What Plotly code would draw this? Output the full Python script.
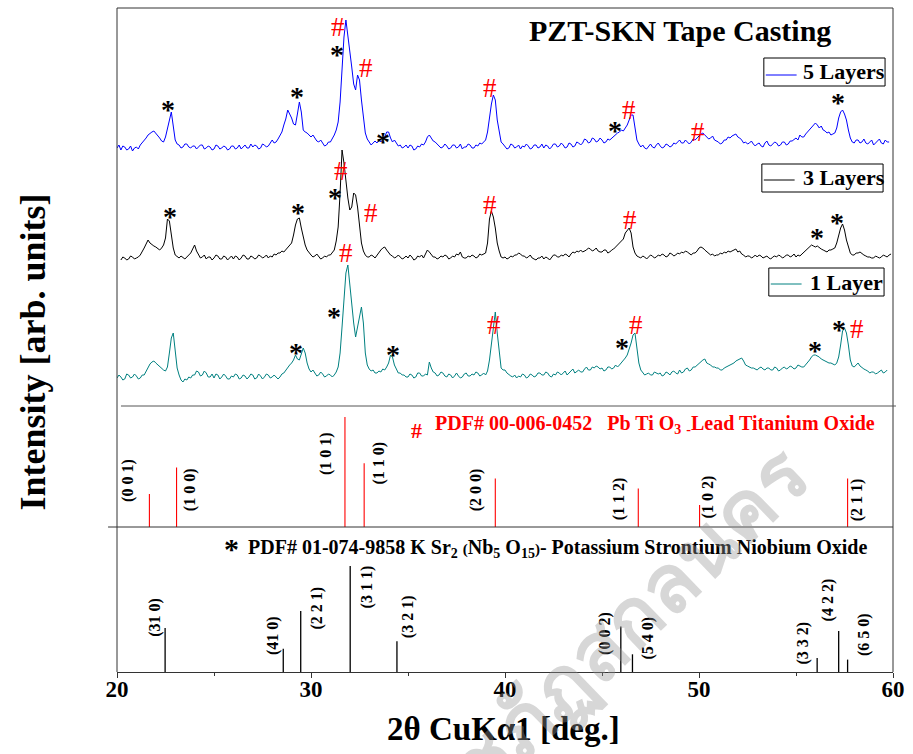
import plotly.graph_objects as go

SERIF = "Liberation Serif, Times New Roman, serif"

# ---------------------------------------------------------------
# XRD scans: 2-theta sampling (deg, 0.1 step) and intensities (a.u.)
# one row per degree, 20 ... 59
# ---------------------------------------------------------------
two_theta = [round(20.0 + 0.1 * i, 1) for i in range(400)]

layers5 = [
    4, 7, 2, 6, 5, 2, 3, 6, 1, 4,
    5, 3, 7, 9, 12, 14, 17, 19, 20, 21,
    19, 17, 14, 11, 10, 15, 24, 34, 40, 26,
    12, 8, 7, 4, 5, 8, 8, 5, 4, 6,
    6, 3, 5, 7, 7, 3, 4, 6, 5, 2,
    3, 7, 6, 3, 4, 6, 5, 2, 3, 6,
    6, 3, 4, 7, 3, 5, 7, 4, 4, 8,
    5, 7, 6, 3, 4, 8, 7, 5, 6, 9,
    12, 9, 10, 13, 17, 20, 27, 33, 42, 38,
    34, 28, 27, 38, 50, 40, 22, 20, 19, 17,
    15, 17, 14, 11, 10, 12, 9, 6, 7, 10,
    10, 13, 17, 22, 30, 50, 85, 115, 132, 118,
    99, 85, 68, 62, 77, 72, 52, 32, 19, 13,
    10, 7, 9, 11, 9, 12, 10, 13, 15, 20,
    20, 14, 10, 12, 9, 6, 7, 4, 5, 7,
    4, 7, 6, 2, 3, 6, 5, 8, 7, 10,
    15, 17, 14, 11, 10, 8, 7, 4, 5, 8,
    6, 3, 4, 7, 7, 4, 5, 8, 3, 5,
    5, 8, 7, 4, 4, 7, 6, 9, 8, 10,
    12, 20, 35, 48, 57, 52, 32, 20, 10, 8,
    6, 3, 4, 8, 7, 4, 5, 7, 3, 6,
    5, 8, 6, 3, 4, 7, 7, 4, 5, 8,
    4, 7, 6, 3, 5, 8, 8, 5, 6, 9,
    7, 4, 5, 9, 8, 5, 6, 10, 9, 7,
    9, 13, 12, 9, 10, 14, 13, 10, 11, 14,
    12, 9, 10, 13, 12, 14, 15, 18, 19, 20,
    22, 21, 24, 27, 32, 37, 37, 25, 12, 8,
    5, 7, 4, 3, 6, 8, 5, 4, 7, 9,
    6, 4, 5, 8, 7, 5, 6, 9, 8, 10,
    12, 9, 9, 12, 10, 8, 10, 13, 12, 14,
    17, 18, 19, 17, 15, 13, 14, 16, 12, 11,
    10, 8, 9, 12, 12, 15, 14, 16, 17, 18,
    15, 14, 12, 9, 10, 8, 9, 11, 8, 6,
    8, 9, 6, 5, 9, 11, 7, 6, 8, 10,
    9, 6, 7, 10, 10, 7, 8, 11, 11, 13,
    14, 12, 17, 15, 15, 18, 20, 23, 25, 27,
    29, 27, 24, 26, 22, 21, 19, 20, 17, 18,
    19, 24, 34, 40, 42, 38, 32, 22, 14, 10,
    9, 12, 12, 9, 10, 13, 9, 8, 10, 12,
    7, 9, 10, 13, 9, 8, 12, 10, 10, None,
]

layers3 = [
    None, None, 3, 6, 5, 3, 4, 7, 6, 4,
    5, 6, 8, 11, 15, 19, 23, 20, 18, 17,
    16, 14, 13, 15, 18, 25, 44, 42, 30, 15,
    8, 6, 5, 7, 5, 4, 6, 8, 10, 14,
    18, 12, 8, 5, 6, 8, 4, 6, 6, 3,
    5, 8, 7, 4, 4, 7, 6, 3, 5, 7,
    4, 7, 6, 3, 5, 8, 7, 4, 4, 7,
    6, 4, 5, 8, 7, 5, 6, 8, 5, 7,
    6, 9, 8, 10, 10, 12, 11, 13, 15, 17,
    20, 28, 38, 44, 45, 35, 26, 18, 13, 10,
    8, 6, 7, 9, 6, 4, 5, 7, 6, 8,
    8, 10, 13, 22, 36, 70, 113, 100, 80, 65,
    53, 56, 70, 68, 56, 40, 20, 12, 8, 6,
    6, 8, 7, 5, 8, 10, 13, 15, 16, 13,
    10, 8, 7, 5, 6, 8, 6, 4, 5, 7,
    5, 8, 6, 3, 4, 7, 6, 8, 5, 9,
    13, 11, 8, 6, 6, 4, 5, 7, 6, 8,
    7, 4, 5, 7, 6, 9, 8, 11, 6, 5,
    5, 7, 6, 8, 7, 5, 6, 9, 8, 9,
    10, 20, 44, 52, 46, 35, 20, 12, 6, 5,
    6, 4, 5, 7, 6, 8, 8, 10, 9, 7,
    7, 5, 6, 8, 5, 4, 3, 5, 5, 7,
    4, 6, 5, 3, 6, 8, 8, 6, 6, 8,
    7, 9, 8, 6, 9, 11, 10, 12, 11, 13,
    11, 12, 13, 15, 14, 12, 13, 15, 12, 11,
    11, 13, 13, 10, 11, 13, 14, 16, 18, 19,
    21, 24, 30, 33, 35, 30, 16, 10, 7, 6,
    5, 7, 6, 4, 6, 8, 7, 5, 6, 8,
    7, 9, 8, 6, 7, 10, 9, 7, 8, 10,
    9, 11, 10, 12, 11, 9, 8, 10, 10, 12,
    15, 16, 15, 13, 11, 9, 8, 9, 7, 8,
    8, 10, 9, 11, 10, 12, 11, 12, 13, 14,
    11, 12, 9, 8, 6, 7, 7, 5, 6, 8,
    6, 8, 7, 5, 6, 7, 5, 4, 6, 7,
    6, 8, 7, 5, 6, 8, 8, 6, 7, 9,
    6, 8, 7, 9, 10, 12, 15, 17, 18, 17,
    16, 17, 15, 14, 13, 12, 11, 13, 13, 14,
    15, 20, 28, 35, 39, 33, 23, 15, 10, 8,
    8, 10, 10, 11, 9, 8, 7, 6, 6, 5,
    5, 7, 6, 5, 6, 8, 7, 6, 8, 9,
]

layer1 = [
    5, 8, 6, 3, 4, 9, 8, 5, 6, 9,
    7, 4, 5, 8, 8, 12, 16, 19, 21, 22,
    20, 18, 16, 14, 13, 12, 16, 30, 45, 50,
    30, 15, 8, 3, 1, 4, 3, 6, 5, 8,
    8, 12, 11, 7, 8, 12, 10, 6, 6, 9,
    5, 9, 8, 4, 6, 9, 7, 4, 4, 7,
    6, 9, 8, 4, 5, 8, 7, 4, 6, 9,
    8, 4, 5, 9, 7, 4, 6, 9, 8, 5,
    6, 8, 6, 4, 6, 9, 10, 13, 15, 18,
    20, 23, 28, 24, 23, 29, 35, 30, 20, 14,
    11, 13, 10, 7, 8, 11, 9, 6, 7, 9,
    8, 6, 8, 11, 16, 30, 56, 88, 110, 118,
    96, 75, 60, 46, 55, 65, 76, 60, 30, 18,
    14, 12, 13, 10, 10, 12, 11, 14, 13, 16,
    20, 28, 26, 18, 13, 10, 10, 8, 8, 6,
    6, 9, 8, 5, 6, 10, 10, 7, 7, 9,
    8, 21, 15, 11, 10, 7, 8, 11, 10, 7,
    6, 9, 8, 5, 7, 10, 7, 5, 6, 9,
    10, 7, 7, 9, 8, 11, 10, 7, 8, 10,
    8, 12, 23, 40, 60, 71, 50, 30, 15, 13,
    13, 10, 8, 7, 6, 8, 5, 7, 6, 9,
    8, 5, 6, 9, 8, 6, 7, 10, 10, 8,
    8, 11, 10, 7, 6, 9, 8, 11, 10, 8,
    10, 12, 8, 10, 11, 14, 10, 12, 13, 11,
    11, 14, 16, 13, 13, 16, 15, 17, 16, 14,
    15, 12, 13, 16, 16, 14, 15, 18, 16, 18,
    20, 22, 25, 28, 33, 40, 48, 50, 35, 20,
    13, 10, 8, 9, 10, 8, 8, 11, 10, 9,
    10, 7, 8, 11, 10, 8, 11, 12, 10, 9,
    13, 10, 11, 14, 15, 12, 13, 16, 16, 18,
    20, 22, 23, 24, 20, 19, 18, 16, 16, 15,
    15, 13, 13, 15, 16, 17, 18, 19, 20, 22,
    23, 24, 25, 22, 18, 17, 16, 15, 15, 14,
    13, 15, 16, 14, 13, 15, 15, 13, 13, 16,
    15, 12, 13, 15, 16, 14, 15, 17, 16, 14,
    15, 18, 17, 16, 16, 18, 20, 23, 26, 28,
    28, 27, 26, 24, 23, 22, 21, 20, 20, 19,
    18, 20, 26, 38, 52, 55, 50, 38, 23, 17,
    16, 18, 20, 17, 15, 14, 13, 12, 10, 11,
    11, 9, 10, 12, 13, 10, 11, 13, None, None,
]

# stacking offsets of the three scans in the upper panel
offset5, offset3, offset1 = 254, 143, 23

series_names = ["5 Layers", "3 Layers", "1 Layer"]
series_colors = ["#0000ff", "black", "#008080"]

# ---------------------------------------------------------------
# Reference patterns
# ---------------------------------------------------------------
# PDF# 00-006-0452 PbTiO3
pto_pos = [21.67, 23.07, 31.75, 32.74, 39.50, 46.87, 50.03, 57.66]
pto_int = [30, 54, 100, 58, 44, 35, 20, 44]
pto_hkl = ["(0 0 1)", "(1 0 0)", "(1 0 1)", "(1 1 0)", "(2 0 0)", "(1 1 2)", "(1 0 2)", "(2 1 1)"]
pto_lbl_x = [20.56, 23.74, 30.81, 33.52, 38.49, 45.92, 50.47, 58.16]
pto_lbl_y = [42.7, 34.0, 67.0, 58.0, 34.0, 26.0, 27.0, 24.5]

# PDF# 01-074-9858 KSr2(Nb5O15)
ksn_pos = [22.48, 28.57, 29.47, 32.02, 34.43, 45.97, 46.57, 56.09, 57.20, 57.66]
ksn_int = [41.5, 22, 57.5, 100, 29, 43, 16.7, 13.2, 38.7, 11.7]
ksn_hkl = ["(31 0)", "(41 0)", "(2 2 1)", "(3 1 1)", "(3 2 1)", "(0 0 2)", "(5 4 0)", "(3 3 2)", "(4 2 2)", "(6 5 0)"]
ksn_lbl_x = [21.95, 28.04, 30.29, 32.91, 35.01, 45.15, 47.35, 55.34, 56.67, 58.51]
ksn_lbl_y = [51.9, 34.9, 60.4, 80.2, 51.9, 36.8, 32.1, 27.4, 67.9, 34.9]

# phase markers on the scans: (2theta, height in upper panel, symbol)
phase_marks = [
    (22.61, 301, "*"), (29.27, 314, "*"), (31.37, 379, "#"), (31.32, 356, "*"),
    (32.86, 338, "#"), (33.73, 269, "*"), (39.21, 318, "#"), (45.66, 280, "*"),
    (46.38, 296, "#"), (49.96, 274, "#"), (57.18, 308, "*"),
    (22.71, 194, "*"), (29.32, 198, "*"), (31.22, 213, "*"), (31.57, 235, "#"),
    (33.11, 193, "#"), (39.21, 201, "#"), (46.43, 186, "#"), (56.06, 173, "*"),
    (57.13, 188, "*"),
    (29.22, 58, "*"), (31.17, 94, "*"), (31.78, 153, "#"), (34.24, 56, "*"),
    (39.41, 81, "#"), (46.02, 63, "*"), (46.73, 81, "#"), (56.00, 60, "*"),
    (57.23, 81, "*"), (58.16, 77, "#"),
]

# plot-area geometry in pixels (for paper-coordinate placement)
L, T, W, H = 117, 8, 781, 664


def pxx(px):
    return (px - L) / W


def pxy(py):
    return (T + H - py) / H


def shifted(values, off):
    return [None if v is None else v + off for v in values]


def sticks(pos, inten):
    xs, ys = [], []
    for p, h in zip(pos, inten):
        xs += [p, p, None]
        ys += [0, h, None]
    return xs, ys


fig = go.Figure()

kx, ky = sticks(ksn_pos, ksn_int)
fig.add_trace(go.Scatter(x=kx, y=ky, xaxis="x", yaxis="y", mode="lines",
                         line=dict(color="black", width=1.3), showlegend=False,
                         hoverinfo="skip"))
px_, py_ = sticks(pto_pos, pto_int)
fig.add_trace(go.Scatter(x=px_, y=py_, xaxis="x", yaxis="y2", mode="lines",
                         line=dict(color="#ff0000", width=1.1), showlegend=False,
                         hoverinfo="skip"))

for vals, off, name, col in zip([layers5, layers3, layer1], [offset5, offset3, offset1],
                                series_names, series_colors):
    fig.add_trace(go.Scatter(x=two_theta, y=shifted(vals, off), xaxis="x", yaxis="y3",
                             mode="lines", name=name, showlegend=False,
                             line=dict(color=col, width=1)))

ann = []
for x, y, s in phase_marks:
    if s == "*":
        ann.append(dict(x=x, y=y, xref="x", yref="y3", text="*", showarrow=False,
                        xanchor="center", yanchor="middle", yshift=-4,
                        font=dict(family=SERIF, size=28, color="black", weight="bold")))
    else:
        ann.append(dict(x=x, y=y, xref="x", yref="y3", text="#", showarrow=False,
                        xanchor="center", yanchor="middle",
                        font=dict(family=SERIF, size=27, color="#ff0000")))

for t, x, y in zip(pto_hkl, pto_lbl_x, pto_lbl_y):
    ann.append(dict(x=x, y=y, xref="x", yref="y2", text=t, textangle=-90, showarrow=False,
                    xanchor="center", yanchor="middle",
                    font=dict(family=SERIF, size=16, color="black", weight="bold")))
for t, x, y in zip(ksn_hkl, ksn_lbl_x, ksn_lbl_y):
    ann.append(dict(x=x, y=y, xref="x", yref="y", text=t, textangle=-90, showarrow=False,
                    xanchor="center", yanchor="middle",
                    font=dict(family=SERIF, size=16, color="black", weight="bold")))

# legend boxes drawn by hand: (left, top, right, bottom, line y, text left) in pixels
legend_boxes = [
    (768, 58, 890, 86, 75, 805),
    (766, 164, 888, 192, 180, 805),
    (773, 268, 889, 296, 284, 812),
]
shapes = []
for (x0, y0, x1, y1, ly, tx), name, col in zip(legend_boxes, series_names, series_colors):
    shapes.append(dict(type="rect", xref="paper", yref="paper", x0=pxx(x0), x1=pxx(x1),
                       y0=pxy(y1), y1=pxy(y0), line=dict(color="black", width=1),
                       fillcolor="white"))
    shapes.append(dict(type="line", xref="paper", yref="paper", x0=pxx(x0 + 2),
                       x1=pxx(x0 + 33), y0=pxy(ly), y1=pxy(ly), line=dict(color=col, width=1)))
    ann.append(dict(x=pxx(tx), y=pxy((y0 + y1) / 2), xref="paper", yref="paper",
                    xanchor="left", yanchor="middle", text=name, showarrow=False,
                    font=dict(family=SERIF, size=22, color="black", weight="bold")))

# panel headings
ann.append(dict(x=pxx(684), y=pxy(31), xref="paper", yref="paper", text="PZT-SKN Tape Casting",
                xanchor="center", yanchor="middle", showarrow=False,
                font=dict(family=SERIF, size=30, color="black", weight="bold")))
ann.append(dict(x=pxx(418), y=pxy(430), xref="paper", yref="paper", text="#", showarrow=False,
                xanchor="center", yanchor="middle",
                font=dict(family=SERIF, size=22, color="#ff0000", weight="bold")))
ann.append(dict(x=pxx(435), y=pxy(424), xref="paper", yref="paper", xanchor="left",
                yanchor="middle",
                text="PDF# 00-006-0452   Pb Ti O<sub>3</sub> <sub>-</sub>Lead Titanium Oxide",
                showarrow=False, font=dict(family=SERIF, size=20, color="#ff0000", weight="bold")))
ann.append(dict(x=pxx(232), y=pxy(543), xref="paper", yref="paper", text="*", showarrow=False,
                xanchor="center", yanchor="middle", yshift=-5,
                font=dict(family=SERIF, size=30, color="black", weight="bold")))
ann.append(dict(x=pxx(247), y=pxy(548), xref="paper", yref="paper", xanchor="left",
                yanchor="middle",
                text="PDF# 01-074-9858 K Sr<sub>2</sub> <span style='font-size:15px'>(</span>Nb<sub>5</sub> O<sub>15</sub><span style='font-size:15px'>)</span>- Potassium Strontium Niobium Oxide",
                showarrow=False, font=dict(family=SERIF, size=20, color="black", weight="bold")))

# axis titles
ann.append(dict(x=pxx(506), y=pxy(729), xref="paper", yref="paper", text="2θ CuKα1 [deg.]",
                xanchor="center", yanchor="middle", showarrow=False,
                font=dict(family=SERIF, size=33, color="black", weight="bold")))
ann.append(dict(x=pxx(32), y=pxy(352), xref="paper", yref="paper", text="Intensity [arb. units]",
                textangle=-90, xanchor="center", yanchor="middle", showarrow=False,
                font=dict(family=SERIF, size=36, color="black", weight="bold")))

# library watermark
ann.append(dict(x=pxx(440), y=pxy(800), xref="paper", yref="paper",
                text="มหาวิทยาลัยราชภัฏสกลนคร", textangle=-44, showarrow=False,
                xanchor="center", yanchor="middle",
                font=dict(family="Noto Sans, DejaVu Sans, sans-serif", size=80,
                          color="rgba(150,150,150,0.38)", weight="bold")))

LINE = dict(color="#333333", width=1)
shapes += [
    dict(type="line", xref="paper", yref="paper", x0=0, x1=1, y0=1, y1=1, line=LINE),
    dict(type="line", xref="paper", yref="paper", x0=0, x1=0, y0=0, y1=1, line=LINE),
    dict(type="line", xref="paper", yref="paper", x0=1, x1=1, y0=0, y1=1, line=LINE),
    dict(type="line", xref="paper", yref="paper", x0=pxx(121), x1=pxx(901), y0=pxy(406),
         y1=pxy(406), line=dict(color="#555555", width=1)),
    dict(type="line", xref="paper", yref="paper", x0=pxx(108), x1=1, y0=pxy(527),
         y1=pxy(527), line=LINE),
]

fig.update_layout(
    width=913, height=754,
    margin=dict(l=L, r=913 - L - W, t=T, b=754 - T - H),
    paper_bgcolor="white", plot_bgcolor="white",
    showlegend=False,
    xaxis=dict(domain=[0, 1], range=[20, 60], anchor="y", tickvals=[20, 30, 40, 50, 60],
               ticks="outside", ticklen=5, tickcolor="#333333", showline=True,
               linecolor="#333333", linewidth=1, showgrid=False, zeroline=False,
               ticklabelstandoff=-9,
               tickfont=dict(family=SERIF, size=23, color="black", weight="bold"),
               minor=dict(tickvals=[25, 35, 45, 55], ticks="outside", ticklen=3,
                          tickcolor="#333333")),
    yaxis=dict(domain=[0, 145 / 664], range=[0, 136.8], showticklabels=False, ticks="",
               showgrid=False, zeroline=False, showline=False),
    yaxis2=dict(domain=[145 / 664, 266 / 664], range=[0, 110], showticklabels=False, ticks="",
                showgrid=False, zeroline=False, showline=False),
    yaxis3=dict(domain=[266 / 664, 1], range=[0, 398], showticklabels=False, ticks="",
                showgrid=False, zeroline=False, showline=False),
    annotations=ann,
    shapes=shapes,
)

fig.write_html("out.html")
